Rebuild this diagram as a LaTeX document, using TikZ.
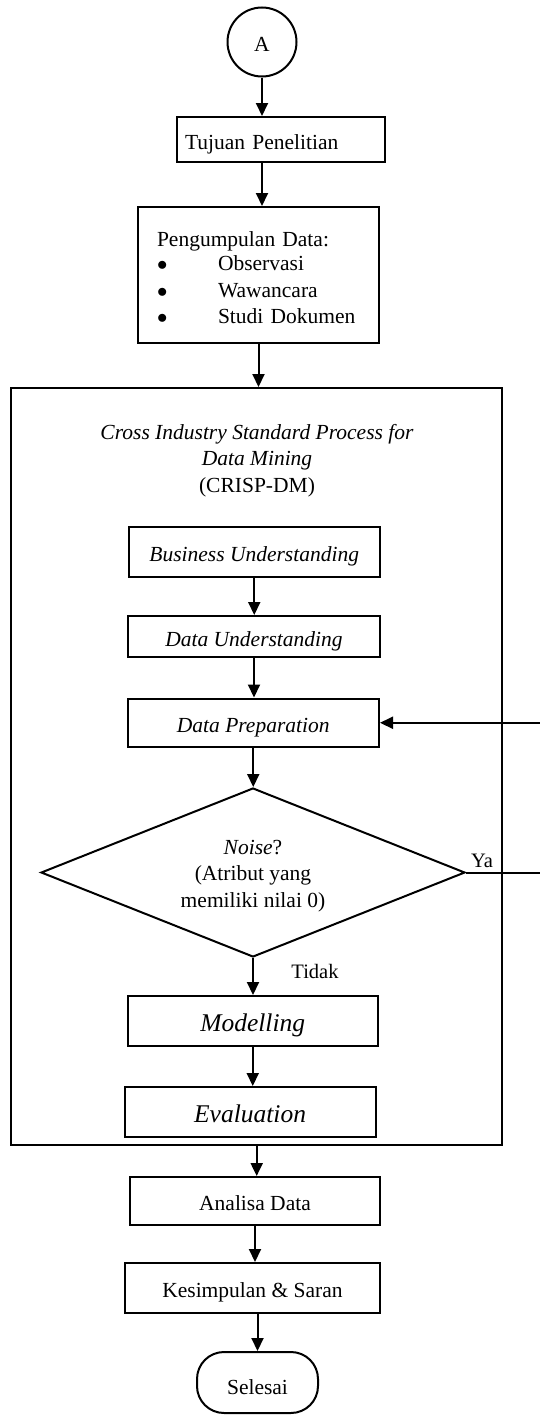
\documentclass[tikz,border=0pt]{standalone}
\usepackage{fontspec}
\setmainfont{Liberation Serif}
\usetikzlibrary{shapes.geometric,arrows.meta}
\begin{document}
\begin{tikzpicture}[x=1pt,y=-1pt,
  line width=2pt,
  txt/.style={font=\fontsize{21.5}{26.5}\selectfont},
  bigtxt/.style={font=\fontsize{25.5}{30}\selectfont\itshape, text height=21pt, text depth=0pt},
  box/.style={draw, rectangle, inner sep=0pt, txt, text height=19pt, text depth=0pt},
  lbl/.style={inner sep=0pt, font=\fontsize{20.5}{24}\selectfont},
  arr/.style={-{Triangle[length=13pt,width=12pt]}}]
\useasboundingbox (0,0) rectangle (540,1416);

% start connector
\node[draw, circle, minimum size=69pt, inner sep=0pt, txt, text height=19pt, text depth=0pt] (A) at (262,42) {A};

\node[box, minimum width=208pt, minimum height=45pt, text width=192pt, align=left, inner xsep=8pt] (tuj) at (281,139.5) {Tujuan Penelitian};

\node[draw, rectangle, inner ysep=0pt, txt, minimum width=241pt, minimum height=136pt, text width=203pt, align=left, inner xsep=19pt] (peng) at (258.5,275)
 {\begin{tabular}{@{}p{61pt}@{}l@{}}
  \multicolumn{2}{@{}l@{}}{\rule{0pt}{28.5pt}Pengumpulan Data:}\\[-2.5pt]
  $\bullet$ & Observasi\\
  $\bullet$ & Wawancara\\
  $\bullet$ & Studi Dokumen
 \end{tabular}};

% CRISP-DM container
\node[draw, rectangle, minimum width=490.6pt, minimum height=757pt, inner sep=0pt] (big) at (256.7,766.5) {};
\node[txt, align=center, inner sep=0pt] (title) at (257,460.5)
 {\textit{Cross Industry Standard Process for}\\\textit{Data Mining}\\(CRISP-DM)};

\node[box, minimum width=251.5pt, minimum height=50pt, font=\fontsize{21.5}{26.5}\selectfont\itshape] (bu) at (254.25,552) {Business Understanding};
\node[box, minimum width=252pt, minimum height=41pt, font=\fontsize{21.5}{26.5}\selectfont\itshape] (du) at (254,636.5) {Data Understanding};
\node[box, minimum width=251.5pt, minimum height=48.5pt, font=\fontsize{21.5}{26.5}\selectfont\itshape] (dp) at (253.25,722.75) {Data Preparation};

\node[draw, diamond, shape aspect=2.51, minimum width=424pt, minimum height=169pt, inner sep=0pt, txt, align=center] (dia) at (253,872.5)
 {\rule{0pt}{21pt}\textit{Noise}?\\(Atribut yang\\memiliki nilai 0)};

\node[box, minimum width=250.5pt, minimum height=50pt, bigtxt] (mod) at (252.75,1021) {Modelling};
\node[box, minimum width=250.8pt, minimum height=50pt, bigtxt] (ev) at (250.1,1112) {Evaluation};

\node[box, minimum width=250pt, minimum height=48pt] (an) at (255,1201) {Analisa Data};
\node[box, minimum width=255pt, minimum height=50pt] (kes) at (252.5,1288) {Kesimpulan \& Saran};
\node[draw, rectangle, rounded corners=27pt, minimum width=121pt, minimum height=61pt, inner sep=0pt, txt, text height=24pt, text depth=0pt] (sel) at (257.5,1382.5) {Selesai};

% labels
\node[lbl] (ya) at (482,861) {Ya};
\node[lbl] (tidak) at (315,971) {Tidak};

% loop coordinate (beyond the right edge)
\coordinate (loop) at (541.5,800);

% connectors
\draw[arr] (A.south) -- (A.south |- tuj.north);
\draw[arr] (A.south |- tuj.south) -- (A.south |- peng.north);
\draw[arr] (peng.south) -- (peng.south |- big.north);
\draw[arr] (bu.south) -- (bu.south |- du.north);
\draw[arr] (du.south) -- (du.south |- dp.north);
\draw[arr] (dp.south) -- (dp.south |- dia.north);
\draw[arr] (dia.south) -- (dia.south |- mod.north);
\draw[arr] (mod.south) -- (mod.south |- ev.north);
\draw[arr] (dia.east) -- (dia.east -| loop) -- (dp.east -| loop) -- (dp.east);
\draw[arr] (big.south) -- (big.south |- an.north);
\draw[arr] (an.south) -- (an.south |- kes.north);
\draw[arr] (sel.north |- kes.south) -- (sel.north);
\end{tikzpicture}
\end{document}
